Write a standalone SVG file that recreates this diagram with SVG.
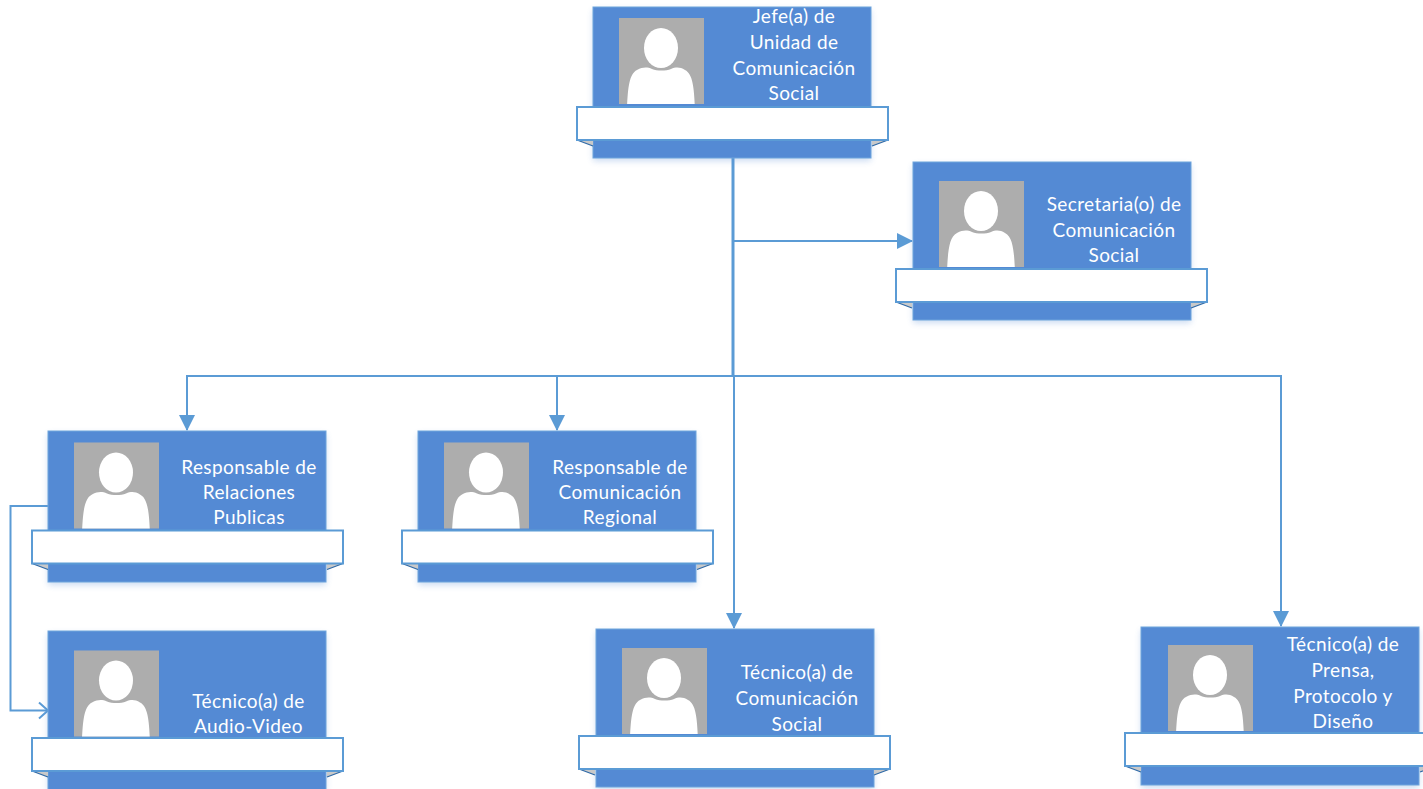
<svg xmlns="http://www.w3.org/2000/svg" width="1423" height="789" viewBox="0 0 1423 789">
<style>
.card{fill:#548ad4;stroke:#6ea5dc;stroke-width:1}
.ph{fill:#adadad}
.fig{fill:#fff;filter:url(#soft)}
.ban{fill:#fff;stroke:#5b9bd5;stroke-width:2}
.fold{fill:#c9c9c9;stroke:none}
.foldl{fill:none;stroke:#2f6aa8;stroke-width:1.3}
.t{font-family:Lato,"Open Sans",sans-serif;font-size:19px;letter-spacing:.4px;fill:#fff;text-anchor:middle}
.c{fill:none;stroke:#5b9bd5;stroke-width:2}
.s{fill:#548ad4;opacity:.3;filter:url(#sh)}
</style>
<defs>
<filter id="sh" x="-10%" y="-10%" width="120%" height="125%"><feGaussianBlur stdDeviation="3"/></filter>
<filter id="soft" x="-5%" y="-5%" width="110%" height="110%"><feGaussianBlur stdDeviation=".7"/></filter>
<marker id="ar" markerUnits="userSpaceOnUse" markerWidth="17" markerHeight="17" refX="15" refY="8" orient="auto"><path d="M0 0L16 8L0 16Z" fill="#5b9bd5"/></marker>
<marker id="op" markerUnits="userSpaceOnUse" markerWidth="14" markerHeight="20" refX="11" refY="10" orient="auto"><path d="M2 2L11 10L2 18" fill="none" stroke="#5b9bd5" stroke-width="2"/></marker>
<clipPath id="pc"><rect width="85" height="86"/></clipPath>
<g id="photo">
<rect class="ph" width="85" height="86"/>
<g clip-path="url(#pc)">
<ellipse class="fig" cx="42" cy="30" rx="17" ry="20"/>
<path class="fig" d="M8 90C9 70 10 56 18 52C24 49 28 49 33 51C38 53 47 53 52 51C57 49 61 49 66 52C74 56 75 70 76 90Z"/>
</g>
</g>
<g id="ribbon">
<path d="M0 33L16 39V33Z" class="fold"/><path d="M311 33L295 39V33Z" class="fold"/>
<path d="M0 33L16 39M311 33L295 39" class="foldl"/>
<rect class="ban" width="311" height="33"/>
</g>
</defs>
<g id="connectors">
<path class="c" style="stroke-width:3" d="M733 158V375"/>
<path class="c" d="M734 241H912" marker-end="url(#ar)"/>
<path class="c" d="M734 376H187V430" marker-end="url(#ar)"/>
<path class="c" d="M557 376V430" marker-end="url(#ar)"/>
<path class="c" d="M734 376V628" marker-end="url(#ar)"/>
<path class="c" d="M734 376H1281V626" marker-end="url(#ar)"/>
<path class="c" d="M48 506H10.500V710.500H48" marker-end="url(#op)"/>
</g>
<g id="node-jefe">
<rect class="s" x="593" y="10" width="278" height="151"/>
<rect class="card" x="593" y="7" width="278" height="151"/>
<use href="#photo" x="619" y="18"/>
<use href="#ribbon" x="577" y="107"/>
<text class="t" x="794" y="23">Jefe(a) de</text><text class="t" x="794" y="49">Unidad de</text><text class="t" x="794" y="75">Comunicación</text><text class="t" x="794" y="100">Social</text>
</g>
<g id="node-secretaria">
<rect class="s" x="913" y="165" width="278" height="158"/>
<rect class="card" x="913" y="162" width="278" height="158"/>
<use href="#photo" x="939" y="181"/>
<use href="#ribbon" x="896" y="269"/>
<text class="t" x="1114" y="211">Secretaria(o) de</text><text class="t" x="1114" y="237">Comunicación</text><text class="t" x="1114" y="262">Social</text>
</g>
<g id="node-relaciones">
<rect class="s" x="48" y="434" width="278" height="151"/>
<rect class="card" x="48" y="431" width="278" height="151"/>
<use href="#photo" x="74" y="442.500"/>
<use href="#ribbon" x="32" y="530.500"/>
<text class="t" x="249" y="474">Responsable de</text><text class="t" x="249" y="499">Relaciones</text><text class="t" x="249" y="524">Publicas</text>
</g>
<g id="node-regional">
<rect class="s" x="418" y="434" width="278" height="151"/>
<rect class="card" x="418" y="431" width="278" height="151"/>
<use href="#photo" x="444" y="442.500"/>
<use href="#ribbon" x="402" y="530.500"/>
<text class="t" x="620" y="474">Responsable de</text><text class="t" x="620" y="499">Comunicación</text><text class="t" x="620" y="524">Regional</text>
</g>
<g id="node-audio">
<rect class="s" x="48" y="634" width="278" height="158"/>
<rect class="card" x="48" y="631" width="278" height="160"/>
<use href="#photo" x="74" y="650.500"/>
<use href="#ribbon" x="32" y="738"/>
<text class="t" x="248.500" y="708">Técnico(a) de</text><text class="t" x="248.500" y="733">Audio-Video</text>
</g>
<g id="node-tecnico">
<rect class="s" x="596" y="632" width="278" height="158"/>
<rect class="card" x="596" y="629" width="278" height="158"/>
<use href="#photo" x="622" y="648"/>
<use href="#ribbon" x="579" y="736"/>
<text class="t" x="797" y="679">Técnico(a) de</text><text class="t" x="797" y="705">Comunicación</text><text class="t" x="797" y="731">Social</text>
</g>
<g id="node-prensa">
<rect class="s" x="1141" y="630" width="278" height="158"/>
<rect class="card" x="1141" y="627" width="278" height="158"/>
<use href="#photo" x="1168" y="645"/>
<use href="#ribbon" x="1125" y="733"/>
<text class="t" x="1343" y="651">Técnico(a) de</text><text class="t" x="1343" y="677">Prensa,</text><text class="t" x="1343" y="703">Protocolo y</text><text class="t" x="1343" y="728">Diseño</text>
</g>
</svg>
